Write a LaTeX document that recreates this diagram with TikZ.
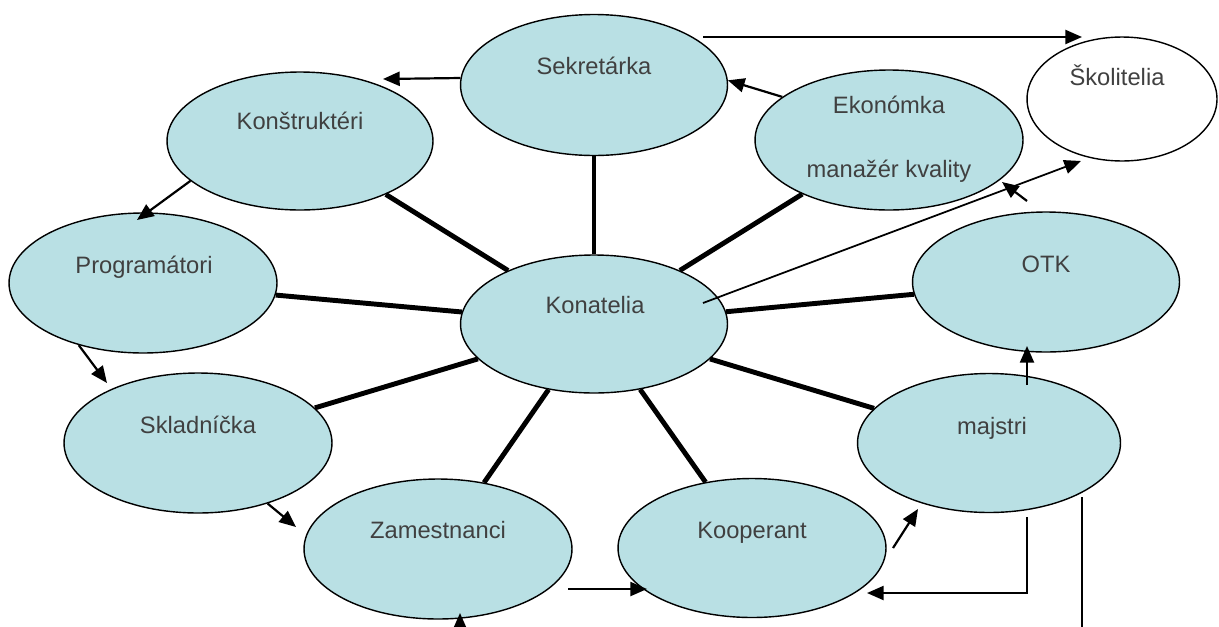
\documentclass[tikz,border=0pt]{standalone}
\usepackage{fontspec}
\setmainfont{Liberation Sans}
\usetikzlibrary{shapes.geometric,arrows.meta}
\definecolor{nodefill}{RGB}{185,224,228}
\definecolor{txtgray}{RGB}{64,64,64}
\begin{document}
\begin{tikzpicture}[x=0.02cm,y=-0.02cm,
  blob/.style={ellipse, draw=black, fill=nodefill, line width=0.8pt, inner sep=0pt},
  lbl/.style={font=\fontsize{13.5}{16}\selectfont, text=txtgray, inner sep=0pt, text height=0.72em, text depth=0pt},
  spoke/.style={line width=2.8pt},
  arr/.style={line width=1.25pt, -{Triangle[length=9.5pt,width=8pt]}},
  thin/.style={line width=1pt}]
\useasboundingbox (0,0) rectangle (1219,626);

% ellipses
\node[blob, minimum width=5.34cm, minimum height=2.82cm] (sek)  at (594,85)  {};
\node[blob, minimum width=5.32cm, minimum height=2.76cm] (kt)   at (300,141) {};
\node[blob, minimum width=5.36cm, minimum height=2.80cm] (prog) at (143,283) {};
\node[blob, minimum width=5.36cm, minimum height=2.80cm] (skl)  at (198,443) {};
\node[blob, minimum width=5.36cm, minimum height=2.80cm] (zam)  at (438,549) {};
\node[blob, minimum width=5.36cm, minimum height=2.78cm] (koop) at (752,548) {};
\node[blob, minimum width=5.26cm, minimum height=2.78cm] (maj)  at (989,443) {};
\node[blob, minimum width=5.34cm, minimum height=2.80cm] (otk)  at (1046,282) {};
\node[blob, minimum width=5.36cm, minimum height=2.80cm] (eko)  at (889,140) {};
\node[blob, minimum width=5.34cm, minimum height=2.76cm] (kon)  at (594,324) {};
\node[blob, fill=white, minimum width=3.80cm, minimum height=2.48cm] (skol) at (1122,99) {};

% labels
\node[lbl] (sek-t)  at (594,68)  {Sekretárka};
\node[lbl] (kt-t)   at (300,123) {Konštruktéri};
\node[lbl] (prog-t) at (144,267) {Programátori};
\node[lbl] (skl-t)  at (198,427) {Skladníčka};
\node[lbl] (zam-t)  at (438,532) {Zamestnanci};
\node[lbl] (koop-t) at (752,532) {Kooperant};
\node[lbl] (maj-t)  at (992,428) {majstri};
\node[lbl] (otk-t)  at (1046,266) {OTK};
\node[lbl] (eko-t1) at (889,107) {Ekonómka};
\node[lbl] (eko-t2) at (889,171) {manažér kvality};
\node[lbl] (kon-t)  at (595,307) {Konatelia};
\node[lbl] (skol-t) at (1117,79) {Školitelia};

% spokes from Konatelia
\draw[spoke] (kon) -- (sek);
\draw[spoke] (kon) -- (kt);
\draw[spoke] (kon) -- (prog);
\draw[spoke] (kon) -- (skl);
\draw[spoke] (kon) -- (zam);
\draw[spoke] (kon) -- (koop);
\draw[spoke] (kon) -- (maj);
\draw[spoke] (kon) -- (otk);
\draw[spoke] (kon) -- (eko);

% free-end coordinates
\coordinate (a1e) at (383,79);
\coordinate (a2s) at (703,37);
\coordinate (a2e) at (1082,37);
\coordinate (a4e) at (137,220);
\coordinate (a5e) at (107,383);
\coordinate (a6e) at (296,527);
\coordinate (a7s) at (568,589);
\coordinate (a7e) at (647,589);
\coordinate (a8s) at (460,634);
\coordinate (a8e) at (460,613);
\coordinate (a9s) at (893,548);
\coordinate (a9e) at (918,509);
\coordinate (a10s) at (1027,517);
\coordinate (a10m) at (1027,593);
\coordinate (a10e) at (867,593);
\coordinate (a11s) at (1027,385);
\coordinate (a11e) at (1027,346);
\coordinate (a12s) at (1027,201);
\coordinate (a12e) at (1002,182);
\coordinate (a13s) at (703,303);
\coordinate (a13e) at (1081,161);
\coordinate (l1s) at (1082,497);
\coordinate (l1e) at (1082,640);

% arrows
\draw[arr] (sek.177) -- (a1e);
\draw[arr] (a2s) -- (a2e);
\draw[arr] (eko.158) -- (sek.2);
\draw[arr] (kt.200) -- (a4e);
\draw[arr] (prog.224) -- (a5e);
\draw[arr] (skl.-41) -- (a6e);
\draw[arr] (a7s) -- (a7e);
\draw[arr] (a8s) -- (a8e);
\draw[arr] (a9s) -- (a9e);
\draw[arr] (a10s) -- (a10m) -- (a10e);
\draw[arr] (a11s) -- (a11e);
\draw[arr] (a12s) -- (a12e);
\draw[arr, line width=1pt] (a13s) -- (a13e);
\draw[thin] (l1s) -- (l1e);
\end{tikzpicture}
\end{document}
